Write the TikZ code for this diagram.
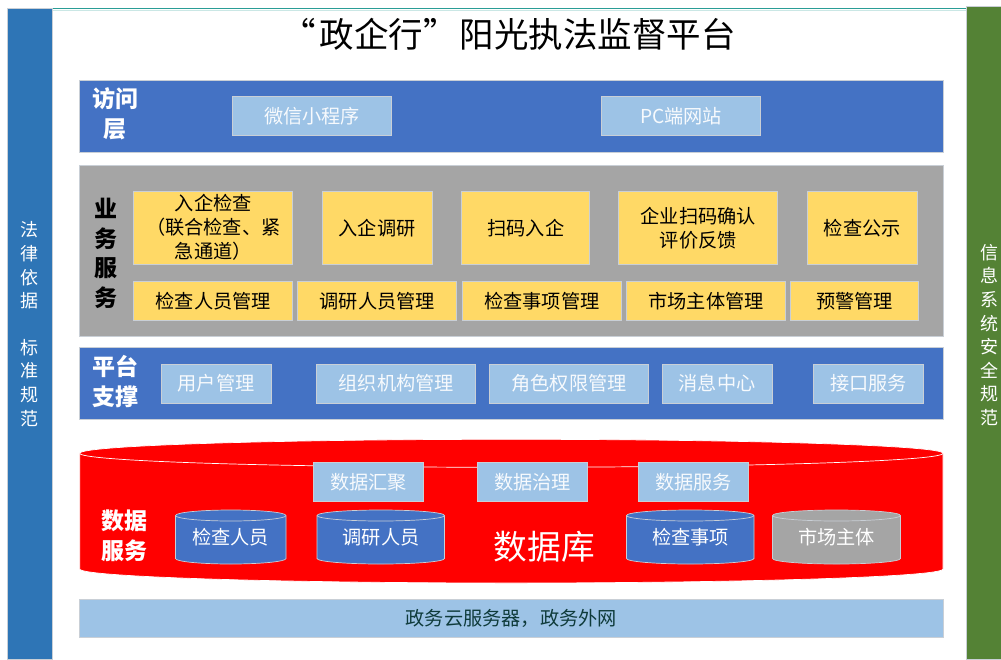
\documentclass[tikz,border=0pt]{standalone}
\usepackage{fontspec}
\setmainfont{Noto Sans CJK SC}
\definecolor{blueband}{HTML}{4472C4}
\definecolor{lightblue}{HTML}{9DC3E6}
\definecolor{greyband}{HTML}{A5A5A5}
\definecolor{gold}{HTML}{FFD966}
\definecolor{sideblue}{HTML}{2E75B6}
\definecolor{sidegreen}{HTML}{548235}
\definecolor{edgegrey}{HTML}{C9CFD6}
\definecolor{teal1}{HTML}{2A9D96}
\definecolor{cloudtext}{HTML}{0F3B3B}
\tikzset{
  x=1pt,y=-1pt,
  band/.style={draw=edgegrey,line width=.7pt},
  box/.style={draw=edgegrey,line width=.7pt,inner sep=0pt,align=center,font=\fontsize{19.2}{24}\selectfont},
  lb/.style={box,fill=lightblue,text=white!92!lightblue},
  gd/.style={box,fill=gold,text=black},
  head/.style={font=\fontsize{23}{30}\bfseries\selectfont,align=center,inner sep=0pt},
  side/.style={font=\fontsize{18}{23.6}\selectfont,align=center,text=white,inner sep=0pt},
  cyl/.style={font=\fontsize{19.2}{24}\selectfont,text=white,inner sep=0pt},
}
% \cylshape{x0}{x1}{ytop of sides}{ybottom of sides}{ry}{fill}{edge}
\newcommand{\cylshape}[7]{%
  \pgfmathsetmacro{\cxm}{(#1+#2)/2}%
  \pgfmathsetmacro{\crx}{(#2-#1)/2}%
  \draw[fill=#6,draw=#7,line width=.7pt] (#1,#3) -- (#1,#4) arc[start angle=180,end angle=360,x radius=\crx,y radius=-#5] -- (#2,#3) arc[start angle=0,end angle=180,x radius=\crx,y radius=-#5] -- cycle;
  \draw[draw=#7,line width=.7pt] (#1,#3) arc[start angle=180,end angle=360,x radius=\crx,y radius=-#5];
}
\begin{document}
\begin{tikzpicture}
\useasboundingbox (0,0) rectangle (1001,659);
\fill[white] (0,0) rectangle (1001,659);
% frame line and side bars
\draw[teal1,line width=.8pt] (52,8.8) -- (966,8.8);
\draw[teal1!25,line width=.6pt] (52,9.8) -- (966,9.8);
\node[draw=edgegrey,line width=.7pt,fill=sideblue,minimum width=45.5pt,minimum height=651pt,inner sep=0pt,anchor=north west] (leftbar) at (6.5,8.3) {};
\node[draw=edgegrey,line width=.7pt,fill=sidegreen,minimum width=36pt,minimum height=653pt,inner sep=0pt,anchor=north west] (rightbar) at (965.6,6.3) {};
\node[side] (lefttext) at (29,324.2) {法\\律\\依\\据\\[23pt]标\\准\\规\\范};
\node[side] (righttext) at (989,335) {信\\息\\系\\统\\安\\全\\规\\范};
% title
\node[font=\fontsize{34.5}{40}\selectfont,inner sep=0pt] (title) at (508.5,34) {“\kern4pt 政企行”\kern2pt 阳光执法监督平台};
% access layer
\node[band,fill=blueband,minimum width=864pt,minimum height=72.5pt,inner sep=0pt,anchor=north west] (access) at (79,79.5) {};
\node[head,text=white] (accesshead) at (115,114) {访问\\层};
\node[lb,minimum width=159pt,minimum height=39pt] (wx) at (312,116) {微信小程序};
\node[lb,minimum width=159pt,minimum height=39pt] (pc) at (681,116) {PC端网站};
% business layer
\node[band,fill=greyband,minimum width=864pt,minimum height=171pt,inner sep=0pt,anchor=north west] (biz) at (79,165.3) {};
\node[head,text=black,font=\fontsize{23}{29.5}\bfseries\selectfont] (bizhead) at (106.2,253.5) {业\\务\\服\\务};
\tikzset{tall/.style={gd,minimum height=73pt},low/.style={gd,minimum height=39pt}}
\node[tall,minimum width=159pt] (b1) at (213.3,227.7) {入企检查\\（联合检查、紧\\急通道）};
\node[tall,minimum width=110pt] (b2) at (377.1,227.7) {入企调研};
\node[tall,minimum width=128pt] (b3) at (525.8,227.7) {扫码入企};
\node[tall,minimum width=159pt] (b4) at (698.3,227.7) {企业扫码确认\\评价反馈};
\node[tall,minimum width=110pt] (b5) at (862.3,227.7) {检查公示};
\node[low,minimum width=159pt] (c1) at (213.3,301.2) {检查人员管理};
\node[low,minimum width=159pt] (c2) at (377.3,301.2) {调研人员管理};
\node[low,minimum width=159pt] (c3) at (541.8,301.2) {检查事项管理};
\node[low,minimum width=159pt] (c4) at (706,301.2) {市场主体管理};
\node[low,minimum width=128pt] (c5) at (854.5,301.2) {预警管理};
% platform layer
\node[band,fill=blueband,minimum width=864pt,minimum height=72pt,inner sep=0pt,anchor=north west] (plat) at (79,347.4) {};
\node[head,text=white] (plathead) at (115.5,382) {平台\\支撑};
\tikzset{pb/.style={lb,minimum height=39pt}}
\node[pb,minimum width=110pt] (p1) at (216,383.5) {用户管理};
\node[pb,minimum width=159pt] (p2) at (396.3,383.5) {组织机构管理};
\node[pb,minimum width=159pt] (p3) at (569,383.5) {角色权限管理};
\node[pb,minimum width=110pt] (p4) at (717,383.5) {消息中心};
\node[pb,minimum width=110pt] (p5) at (868.7,383.5) {接口服务};
% data layer
\cylshape{79.7}{943}{453.3}{569}{14}{red}{white}
\node[head,text=white] (datahead) at (124.5,536) {数据\\服务};
\tikzset{db/.style={lb,minimum width=110pt,minimum height=39pt}}
\node[db] (d1) at (368.5,482) {数据汇聚};
\node[db] (d2) at (532.5,482) {数据治理};
\node[db] (d3) at (693.5,482) {数据服务};
\cylshape{175.5}{286}{515.5}{558.5}{5.5}{blueband}{edgegrey}
\node[cyl] (s1) at (230.5,537) {检查人员};
\cylshape{317}{444.5}{515.5}{558.5}{5.5}{blueband}{edgegrey}
\node[cyl] (s2) at (381,537) {调研人员};
\cylshape{626.5}{754}{515.5}{558.5}{5.5}{blueband}{edgegrey}
\node[cyl] (s3) at (690.5,537) {检查事项};
\cylshape{772.5}{900.5}{515.5}{558.5}{5.5}{greyband}{edgegrey}
\node[cyl] (s4) at (836.5,537) {市场主体};
\node[font=\fontsize{33.7}{38}\selectfont,text=white,inner sep=0pt] (dbname) at (544.5,547) {数据库};
% cloud layer
\node[band,fill=lightblue,minimum width=864pt,minimum height=38pt,inner sep=0pt,anchor=north west,text=cloudtext,font=\fontsize{19.2}{24}\selectfont] (cloud) at (79,599.3) {政务云服务器，政务外网};
\end{tikzpicture}
\end{document}
